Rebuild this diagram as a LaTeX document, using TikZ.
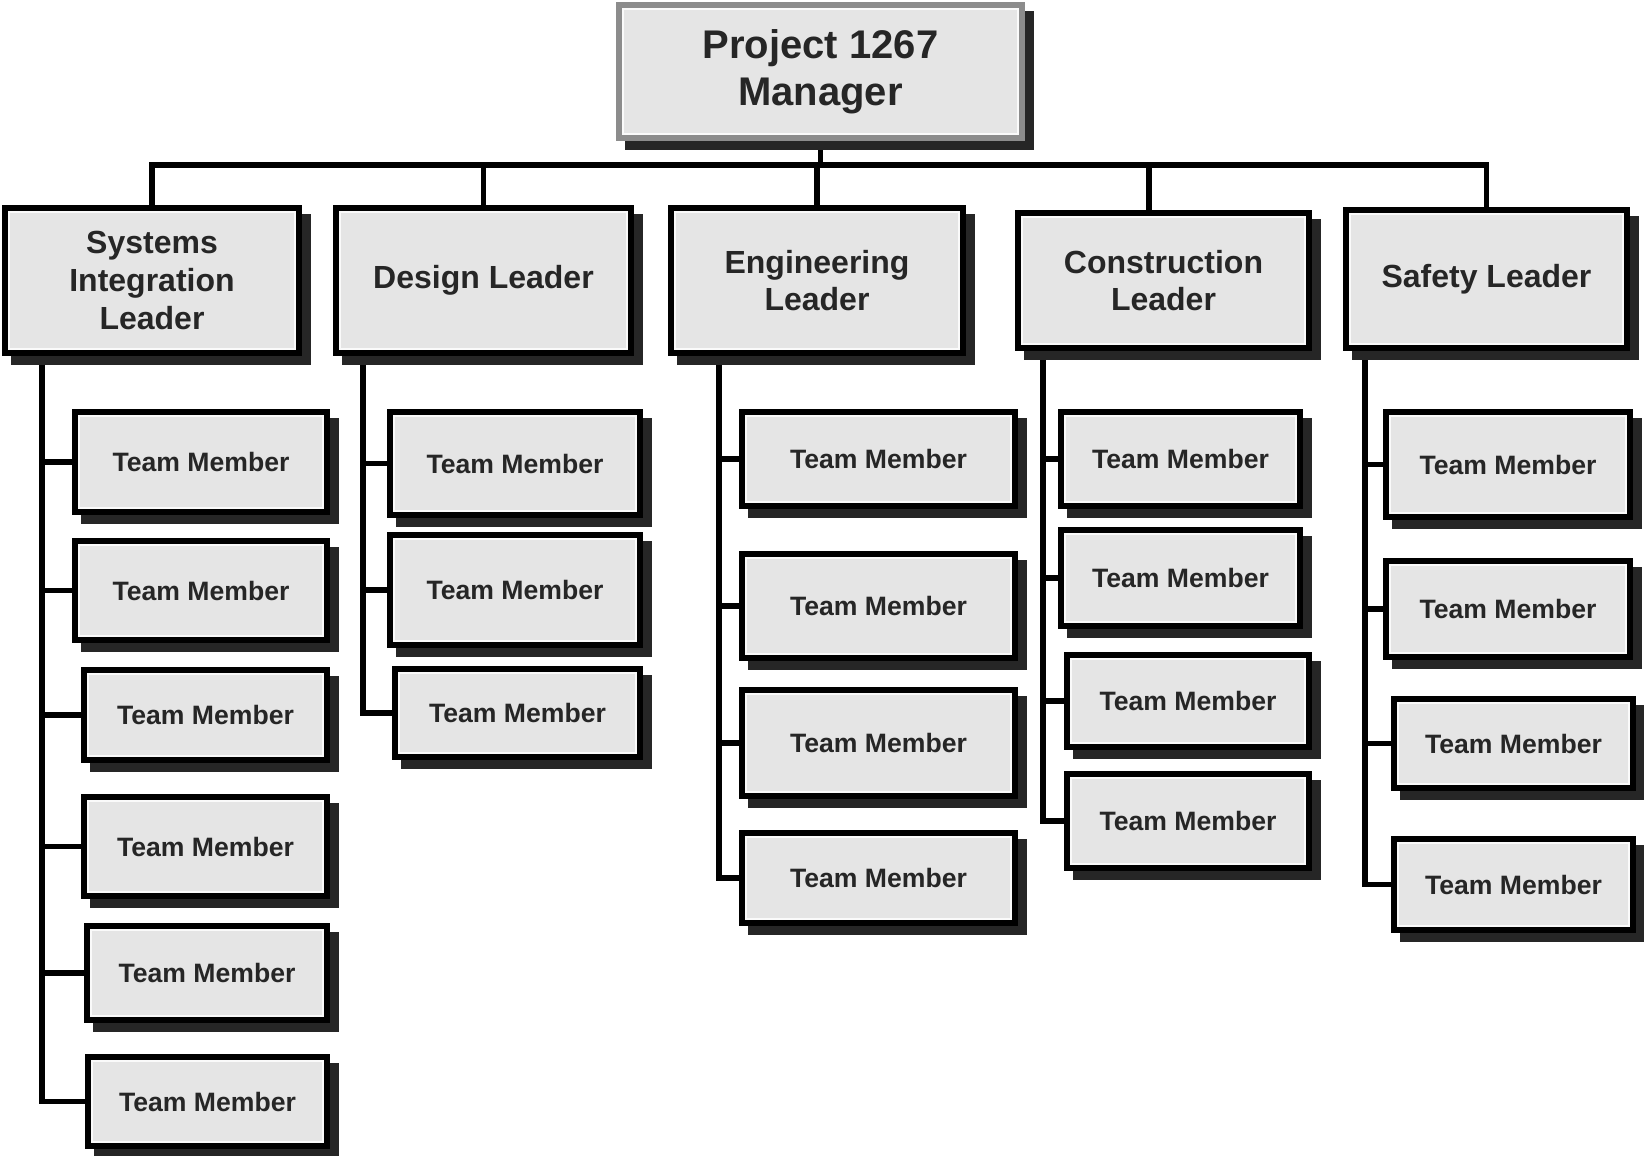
\documentclass[tikz,border=0pt]{standalone}
\usepackage{fontspec}
\setmainfont{Liberation Sans}
\usetikzlibrary{shadows}
\pgfdeclarelayer{backdrop}
\pgfdeclarelayer{background}
\pgfsetlayers{backdrop,background,main}

% one unit = one pixel of a 1644 x 1156 sheet, y running downwards
\tikzset{
  x=0.5pt, y=-0.5pt,
  boxbase/.style={
    fill=black!10, inner sep=0pt, align=center, text=black!85,
    path picture={\draw[black!2, line width=1pt]
      ([shift={(2.2pt,-2.2pt)}]path picture bounding box.north west) rectangle
      ([shift={(-2.2pt,2.2pt)}]path picture bounding box.south east);}},
  shade box/.style={general shadow={shadow xshift=4.5pt, shadow yshift=-4.5pt,
      fill=black!85, draw=black!85, line width=2.6pt}},
  topbox/.style={boxbase, shade box, draw=black!45, line width=2.6pt,
      font=\fontsize{20}{23.6}\selectfont\bfseries},
  leadbox/.style={boxbase, shade box, draw=black, line width=2.6pt,
      font=\fontsize{16}{18.9}\selectfont\bfseries},
  memberbox/.style={boxbase, shade box, draw=black, line width=2.6pt,
      font=\fontsize{13.3}{16}\selectfont\bfseries},
  link/.style={draw=black, line width=2.9pt, line join=miter}
}

% box placed by its corners: style, name, x1, y1, x2, y2, text
\newcommand\orgbox[7]{%
  \node[#1, minimum width={(#5-#3)*0.5pt}, minimum height={(#6-#4)*0.5pt}]
    (#2) at ({(#3+#5)/2},{(#4+#6)/2}) {#7};}
\newcommand\member[5]{\orgbox{memberbox}{#1}{#2}{#3}{#4}{#5}{Team Member}}

\begin{document}
\begin{tikzpicture}
\begin{pgfonlayer}{backdrop}
  \fill[white] (0,0) rectangle (1644,1156);
\end{pgfonlayer}
\useasboundingbox (0,0) rectangle (1644,1156);

% top level
\orgbox{topbox}{mgr}{619}{5}{1022}{138}{Project 1267\\Manager}

% leaders
\orgbox{leadbox}{sil}{5}{208}{299}{353}{Systems\\Integration\\Leader}
\orgbox{leadbox}{dsl}{336}{208}{631}{353}{Design Leader}
\orgbox{leadbox}{enl}{671}{208}{963}{353}{Engineering\\Leader}
\orgbox{leadbox}{col}{1018}{213}{1309}{348}{Construction\\Leader}
\orgbox{leadbox}{sal}{1346}{210}{1627}{348}{Safety Leader}

% systems integration team
\member{si1}{75}{412}{327}{512}
\member{si2}{75}{541}{327}{640}
\member{si3}{84}{670}{327}{760}
\member{si4}{84}{797}{327}{896}
\member{si5}{87}{926}{327}{1020}
\member{si6}{88}{1057}{327}{1146}

% design team
\member{ds1}{390}{412}{640}{515}
\member{ds2}{390}{535}{640}{645}
\member{ds3}{395}{669}{640}{757}

% engineering team
\member{en1}{742}{412}{1015}{506}
\member{en2}{742}{554}{1015}{658}
\member{en3}{742}{690}{1015}{796}
\member{en4}{742}{833}{1015}{923}

% construction team
\member{co1}{1061}{412}{1300}{506}
\member{co2}{1061}{530}{1300}{626}
\member{co3}{1067}{655}{1309}{747}
\member{co4}{1067}{774}{1309}{868}

% safety team
\member{sa1}{1386}{412}{1630}{517}
\member{sa2}{1386}{561}{1630}{657}
\member{sa3}{1394}{699}{1633}{788}
\member{sa4}{1394}{839}{1633}{930}

% bus and trunk positions
\coordinate (bus) at (0,165);
\coordinate (coStem) at (1149,165);
\coordinate (siX) at (42,0);
\coordinate (dsX) at (363,0);
\coordinate (enX) at (719,0);
\coordinate (coX) at (1043,0);
\coordinate (saX) at (1365,0);

\begin{pgfonlayer}{background}
  % manager to leaders
  \draw[link] (mgr.south) -- (mgr.south |- bus);
  \draw[link] (sil.north) -- (sil.north |- bus) -- (sal.north |- bus) -- (sal.north);
  \draw[link] (dsl.north) -- (dsl.north |- bus);
  \draw[link] (enl.north) -- (enl.north |- bus);
  \draw[link] (coStem) -- (col.north -| coStem);

  % leaders to members
  \draw[link] (sil.south -| siX) |- (si6.west);
  \foreach \m in {si1,si2,si3,si4,si5}
    \draw[link] (\m.west -| siX) -- (\m.west);

  \draw[link] (dsl.south -| dsX) |- (ds3.west);
  \foreach \m in {ds1,ds2}
    \draw[link] (\m.west -| dsX) -- (\m.west);

  \draw[link] (enl.south -| enX) |- (en4.west);
  \foreach \m in {en1,en2,en3}
    \draw[link] (\m.west -| enX) -- (\m.west);

  \draw[link] (col.south -| coX) |- (co4.west);
  \foreach \m in {co1,co2,co3}
    \draw[link] (\m.west -| coX) -- (\m.west);

  \draw[link] (sal.south -| saX) |- (sa4.west);
  \foreach \m in {sa1,sa2,sa3}
    \draw[link] (\m.west -| saX) -- (\m.west);
\end{pgfonlayer}
\end{tikzpicture}
\end{document}
